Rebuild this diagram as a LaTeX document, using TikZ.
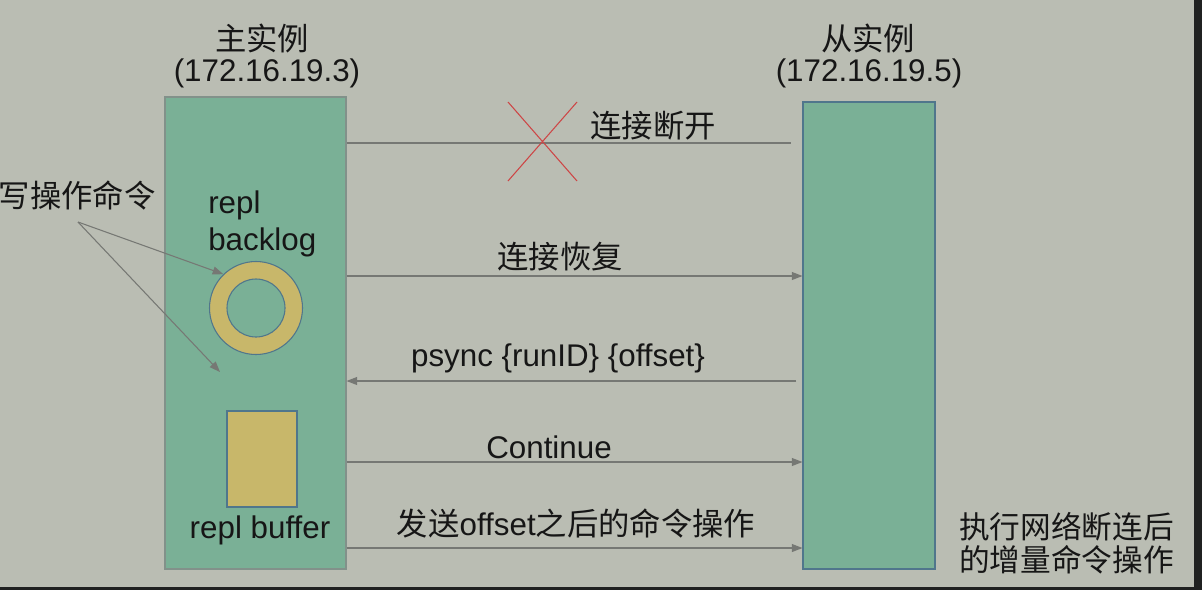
\documentclass[tikz,border=0pt]{standalone}
\usepackage{fontspec}
\setmainfont{Liberation Sans}
\newfontfamily\cjk{Noto Sans CJK SC}
\usetikzlibrary{arrows.meta}

\definecolor{bggray}{RGB}{186,189,179}
\definecolor{frame}{RGB}{32,33,33}
\definecolor{boxgreen}{RGB}{122,176,150}
\definecolor{ringtan}{RGB}{200,183,106}
\definecolor{edgeblue}{RGB}{80,118,140}
\definecolor{edgegray}{RGB}{130,145,138}
\definecolor{linegray}{RGB}{118,120,116}
\definecolor{crossred}{RGB}{205,70,70}
\definecolor{ink}{RGB}{22,22,22}

\begin{document}
\begin{tikzpicture}[x=0.75pt,y=-0.75pt,
		lbl/.style={font=\fontsize{23.5}{27}\selectfont, text=ink, inner sep=0pt},
		msg/.style={draw=linegray, line width=0.8pt},
		tip/.style={-{Triangle[length=8pt,width=6pt]}}]
		% background and dark frame
		\useasboundingbox (0,0) rectangle (1202,590);
		\fill[bggray] (0,0) rectangle (1202,590);
		\fill[frame] (0,587) rectangle (1202,590);
		\fill[frame] (1194,0) rectangle (1202,590);
		
		% instances
		\node (master) [fill=boxgreen, draw=edgegray, line width=0.8pt, minimum width=135.75pt, minimum height=354pt] at (255.5,333) {};
		\node (slave) [fill=boxgreen, draw=edgeblue, line width=0.8pt, minimum width=99pt, minimum height=350.25pt] at (869,335.5) {};
		\node [lbl] at (262,38) {\cjk 主实例};
		\node [lbl] at (267,73) {(172.16.19.3)};
		\node [lbl] at (868,38) {\cjk 从实例};
		\node [lbl] at (869,73) {(172.16.19.5)};
		
		% backlog and buffer
		\node [lbl, anchor=west, align=left, font=\fontsize{23.5}{28}\selectfont] at (208,224) {repl\\backlog};
		\node (backlog) [circle, fill=ringtan, draw=edgeblue, line width=0.8pt, minimum size=69.75pt, inner sep=0pt] at (256,308) {};
		\node (hole) [circle, fill=boxgreen, draw=edgeblue, line width=0.8pt, minimum size=43.5pt, inner sep=0pt] at (backlog.center) {};
		\node (buffer) [fill=ringtan, draw=edgeblue, line width=0.8pt, minimum width=52.5pt, minimum height=72pt] at (262,459) {};
		\node [lbl] at (260,530) {repl buffer};
		
		% write commands
		\node (writecmd) [lbl] at (77,195) {\cjk 写操作命令};
		\coordinate (fork) at (78,222);
		\coordinate (cmdend) at (220,372);
		\draw[msg, tip] (fork) -- (backlog.134);
		\draw[msg, tip] (fork) -- (cmdend);
		
		% messages
		\coordinate (y1) at (0,143);
		\coordinate (y2) at (0,276);
		\coordinate (y3) at (0,381);
		\coordinate (y4) at (0,462);
		\coordinate (y5) at (0,548);
		\coordinate (cut) at (791,143);
		\draw[msg] (master.east |- y1) -- (cut);
		\draw[msg, tip] (master.east |- y2) -- (slave.west |- y2);
		\draw[msg, tip] ([xshift=-4.5pt]slave.west |- y3) -- (master.east |- y3);
		\draw[msg, tip] (master.east |- y4) -- (slave.west |- y4);
		\draw[msg, tip] (master.east |- y5) -- (slave.west |- y5);
		
		% broken link
		\draw[crossred, line width=0.8pt] (508,102) -- (577,181) (508,181) -- (577,102);
		
		\node [lbl] at (653,126) {\cjk 连接断开};
		\node [lbl] at (560,257) {\cjk 连接恢复};
		\node [lbl] at (558,358) {psync \{runID\} \{offset\}};
		\node [lbl] at (549,447) {Continue};
		\node [lbl] at (576,523) {{\cjk 发送}offset{\cjk 之后的命令操作}};
		\node [lbl, anchor=west, align=left, font=\fontsize{23}{25}\selectfont] at (959,543) {\cjk 执行网络断连后\\\cjk 的增量命令操作};
	\end{tikzpicture}
\end{document}
